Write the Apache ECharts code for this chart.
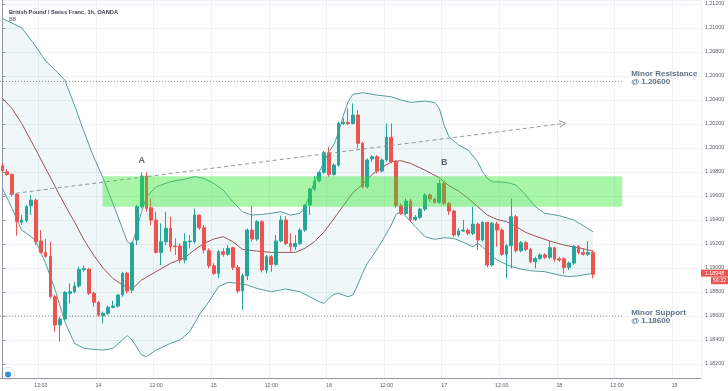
<!DOCTYPE html>
<html><head><meta charset="utf-8">
<script src="https://cdn.jsdelivr.net/npm/echarts@6/dist/echarts.min.js"></script>
<style>html,body{margin:0;padding:0;background:#fff}#c{width:728px;height:391px}</style>
</head><body><div id="c"></div>
<script>
// ---- time slots (1h candles) ----
const startDay = 13, startHour = 4, slotCount = 146;

// ---- candles (GBP/CHF 1h) ----
const opens = [1.19852,1.19802,1.19780,1.19614,1.19380,1.19394,1.19519,1.19566,1.19225,1.19130,
1.19097,1.18761,1.18525,1.18575,1.18789,1.18802,1.18850,1.18986,1.18991,1.18789,
1.18714,1.18600,1.18622,1.18672,1.18683,1.18775,1.18955,1.18816,1.19233,1.19511,
1.19766,1.19502,1.19400,1.19130,1.19219,1.19330,1.19183,1.19183,1.19066,1.19219,
1.19219,1.19441,1.19336,1.19144,1.19019,1.18955,1.19136,1.19114,1.19169,1.19005,
1.18808,1.18936,1.19316,1.19241,1.19386,1.18983,1.19094,1.19030,1.19225,1.19400,
1.19205,1.19177,1.19205,1.19316,1.19525,1.19658,1.19725,1.19797,1.19961,1.19780,
1.19858,1.20205,1.20214,1.20205,1.20275,1.20039,1.19677,1.19908,1.19927,1.19808,
1.19900,1.20089,1.19886,1.19519,1.19455,1.19558,1.19405,1.19422,1.19491,1.19608,
1.19575,1.19547,1.19705,1.19539,1.19475,1.19275,1.19308,1.19316,1.19289,1.19366,
1.19233,1.19380,1.19025,1.19366,1.19316,1.19114,1.19186,1.19427,1.19144,1.19211,
1.19155,1.19052,1.19080,1.19108,1.19089,1.19169,1.19077,1.19077,1.19005,1.19041,
1.19180,1.19130,1.19114,1.19130];
const highs = [1.19872,1.19825,1.19789,1.19622,1.19441,1.19525,1.19608,1.19580,1.19316,1.19241,
1.19219,1.18775,1.18594,1.18808,1.18872,1.18886,1.19011,1.19019,1.19002,1.18802,
1.18725,1.18636,1.18686,1.18727,1.18780,1.18969,1.18969,1.19219,1.19525,1.19797,
1.19797,1.19580,1.19469,1.19372,1.19469,1.19427,1.19247,1.19205,1.19289,1.19275,
1.19497,1.19447,1.19358,1.19164,1.19039,1.19150,1.19164,1.19191,1.19177,1.19025,
1.18955,1.19330,1.19519,1.19400,1.19400,1.19108,1.19108,1.19275,1.19436,1.19433,
1.19289,1.19275,1.19330,1.19530,1.19669,1.19766,1.19808,1.19975,1.20011,1.19872,
1.20219,1.20247,1.20330,1.20372,1.20316,1.20052,1.19914,1.19941,1.19941,1.19914,
1.20205,1.20205,1.19900,1.19539,1.19580,1.19575,1.19441,1.19502,1.19622,1.19622,
1.19586,1.19739,1.19719,1.19552,1.19486,1.19330,1.19400,1.19330,1.19511,1.19380,
1.19391,1.19386,1.19386,1.19386,1.19330,1.19197,1.19580,1.19441,1.19225,1.19225,
1.19169,1.19094,1.19122,1.19122,1.19225,1.19177,1.19094,1.19089,1.19052,1.19191,
1.19191,1.19164,1.19225,1.19150];
const lows = [1.19797,1.19769,1.19594,1.19269,1.19358,1.19380,1.19441,1.19191,1.19122,1.19086,
1.18747,1.18469,1.18386,1.18558,1.18705,1.18789,1.18836,1.18969,1.18775,1.18677,
1.18594,1.18539,1.18608,1.18664,1.18669,1.18761,1.18789,1.18789,1.19191,1.19497,
1.19469,1.19358,1.19122,1.19025,1.19191,1.19136,1.19108,1.19039,1.19039,1.19164,
1.19205,1.19316,1.19122,1.18997,1.18941,1.18914,1.19094,1.19102,1.18983,1.18789,
1.18650,1.18900,1.19219,1.19225,1.18964,1.18955,1.18969,1.19019,1.19214,1.19191,
1.19136,1.19150,1.19191,1.19302,1.19441,1.19641,1.19714,1.19786,1.19761,1.19769,
1.19844,1.20191,1.20191,1.20197,1.19997,1.19664,1.19664,1.19886,1.19789,1.19797,
1.19886,1.19872,1.19502,1.19441,1.19441,1.19386,1.19391,1.19408,1.19475,1.19552,
1.19536,1.19536,1.19525,1.19441,1.19261,1.19261,1.19302,1.19275,1.19275,1.19150,
1.19219,1.19005,1.19011,1.19177,1.19102,1.18914,1.18997,1.19130,1.19130,1.19141,
1.19039,1.18997,1.19066,1.19075,1.19075,1.19052,1.19052,1.18955,1.18983,1.19025,
1.19114,1.19102,1.19102,1.18914];
const closes = [1.19808,1.19780,1.19614,1.19386,1.19400,1.19511,1.19566,1.19219,1.19130,1.19097,
1.18761,1.18525,1.18575,1.18797,1.18802,1.18850,1.18989,1.18997,1.18789,1.18714,
1.18608,1.18622,1.18672,1.18683,1.18775,1.18955,1.18808,1.19205,1.19511,1.19766,
1.19497,1.19400,1.19130,1.19219,1.19330,1.19177,1.19177,1.19066,1.19219,1.19225,
1.19441,1.19336,1.19150,1.19019,1.18955,1.19136,1.19114,1.19164,1.19005,1.18808,
1.18936,1.19316,1.19241,1.19386,1.18983,1.19094,1.19030,1.19225,1.19400,1.19205,
1.19177,1.19205,1.19316,1.19525,1.19658,1.19725,1.19797,1.19961,1.19780,1.19858,
1.20205,1.20214,1.20205,1.20275,1.20039,1.19677,1.19900,1.19927,1.19808,1.19900,
1.20089,1.19886,1.19519,1.19455,1.19558,1.19405,1.19422,1.19491,1.19608,1.19575,
1.19547,1.19705,1.19539,1.19475,1.19275,1.19308,1.19316,1.19289,1.19366,1.19233,
1.19380,1.19025,1.19372,1.19316,1.19114,1.19186,1.19427,1.19144,1.19211,1.19155,
1.19052,1.19080,1.19108,1.19089,1.19169,1.19072,1.19066,1.19005,1.19041,1.19180,
1.19130,1.19114,1.19130,1.18948];

// ---- Bollinger bands (read at candle indices) ----
const upperIdx = [0,4,7,9,11,13,15,17,19,21,23,25,26,27,28,29,30,32,35,38,40,42,44,46,48,50,52,55,58,60,62,63,64,65,66,67,68,69,70,71,72,73,75,78,81,83,85,88,90,91,92,93,95,97,99,100,101,102,105,107,109,111,113,116,119,121,123];
const upperVal = [1.21080,1.21002,1.20844,1.20725,1.20650,1.20566,1.20358,1.20136,1.19927,1.19747,1.19539,1.19330,1.19219,1.19197,1.19330,1.19469,1.19594,1.19677,1.19719,1.19741,1.19761,1.19747,1.19705,1.19650,1.19552,1.19469,1.19441,1.19450,1.19469,1.19441,1.19455,1.19511,1.19608,1.19719,1.19802,1.19886,1.19969,1.20025,1.20130,1.20270,1.20386,1.20447,1.20461,1.20441,1.20427,1.20400,1.20380,1.20391,1.20380,1.20330,1.20191,1.20094,1.20025,1.19983,1.19886,1.19802,1.19747,1.19719,1.19714,1.19691,1.19608,1.19511,1.19455,1.19436,1.19400,1.19352,1.19302];
const midIdx = [0,2,4,7,9,11,13,15,17,19,21,23,25,27,29,32,35,38,40,42,44,46,48,50,53,56,59,61,63,65,67,69,71,73,75,77,79,81,83,85,88,91,93,95,97,99,101,103,105,107,109,111,114,117,120,123];
const midVal = [1.20414,1.20330,1.20205,1.19983,1.19830,1.19677,1.19525,1.19386,1.19233,1.19108,1.18997,1.18914,1.18858,1.18825,1.18900,1.18969,1.19039,1.19086,1.19150,1.19205,1.19241,1.19261,1.19219,1.19155,1.19141,1.19130,1.19130,1.19130,1.19164,1.19219,1.19302,1.19408,1.19519,1.19627,1.19697,1.19780,1.19836,1.19886,1.19894,1.19872,1.19816,1.19752,1.19686,1.19641,1.19580,1.19511,1.19441,1.19405,1.19386,1.19344,1.19297,1.19266,1.19225,1.19191,1.19169,1.19141];
const lowerIdx = [0,2,4,6,7,9,11,13,15,17,19,21,23,25,26,27,29,30,32,35,37,39,41,43,45,47,49,51,53,56,59,62,64,66,67,68,69,70,72,73,74,75,76,77,79,81,82,83,84,86,88,90,92,94,96,98,99,100,102,104,106,108,110,113,116,118,120,123];
const lowerVal = [1.19664,1.19497,1.19316,1.19261,1.19219,1.19039,1.18816,1.18552,1.18372,1.18330,1.18322,1.18316,1.18330,1.18400,1.18436,1.18400,1.18275,1.18261,1.18316,1.18372,1.18400,1.18469,1.18608,1.18719,1.18844,1.18880,1.18872,1.18858,1.18830,1.18802,1.18825,1.18802,1.18761,1.18719,1.18705,1.18747,1.18780,1.18789,1.18761,1.18775,1.18858,1.18955,1.19039,1.19094,1.19219,1.19358,1.19447,1.19469,1.19433,1.19344,1.19261,1.19239,1.19252,1.19247,1.19214,1.19177,1.19205,1.19177,1.19094,1.19047,1.19011,1.18991,1.18977,1.18969,1.18941,1.18927,1.18936,1.18955];

// ---- drawings ----
const zoneIdx = [20.87, 129.1], zonePrice = [1.19764, 1.19511];
const trendIdx = [-0.1, 117.25], trendPrice = [1.19608, 1.20206];
const levelIdx = [-0.5, 129.1], levelPrice = [1.20555, 1.18600];
const levelText = ['Minor Resistance\n@ 1.20600', 'Minor Support\n@ 1.18600'];
const levelTextIdx = 130.96, levelTextPrice = [1.20583, 1.18592];
const markText = ['A', 'B'], markIdx = [29, 92], markPrice = [1.19892, 1.19875];
const lastPrice = 1.18948, countdown = '56:32';
const yTicks = {min: 1.1808333, max: 1.2123333, step: 0.002};

const categories = [];
for (let i = 0; i < slotCount; i++) {
  const t = startHour + i, d = startDay + Math.floor(t / 24), h = t % 24;
  categories.push(d + ' ' + String(h).padStart(2, '0') + ':00');
}
const isTick = (idx, v) => /(00|12):00$/.test(v);
const FONT = '"Liberation Sans", Arial, sans-serif';
const chart = echarts.init(document.getElementById('c'), null, {renderer: 'canvas'});

chart.setOption({
  animation: false,
  backgroundColor: '#ffffff',
  title: {text: 'British Pound / Swiss Franc, 1h, OANDA', subtext: 'BB', left: 4, top: 4, itemGap: 2,
    textStyle: {fontSize: 5.7, fontWeight: 'bold', color: '#3b3f4a', fontFamily: FONT},
    subtextStyle: {fontSize: 5.4, color: '#6a6d78', fontFamily: FONT}},
  grid: {left: -1.9, right: 27, top: 0, bottom: 13},
  xAxis: [{
    type: 'category', data: categories, boundaryGap: true,
    axisLine: {lineStyle: {color: '#9598a1'}}, axisTick: {show: false},
    axisLabel: {interval: isTick, formatter: v => v.endsWith(' 00:00') ? v.split(' ')[0] : '12:00',
      fontSize: 5.3, color: '#5d606b', margin: 5, fontFamily: FONT},
    splitLine: {show: true, interval: isTick, lineStyle: {color: '#eef1f6', width: 1}}
  }, {
    type: 'value', min: -0.5, max: slotCount - 0.5, show: false
  }],
  yAxis: {
    type: 'value', position: 'right', min: yTicks.min, max: yTicks.max,
    minInterval: yTicks.step, maxInterval: yTicks.step, splitNumber: 15,
    axisLine: {show: true, lineStyle: {color: '#9598a1'}},
    axisTick: {show: true, length: 3, lineStyle: {color: '#9598a1'}},
    axisLabel: {showMinLabel: false, showMaxLabel: false, formatter: v => v.toFixed(5),
      fontSize: 5.3, color: '#5d606b', margin: 4, fontFamily: FONT},
    splitLine: {lineStyle: {color: '#eef1f6'}}
  },
  series: [
    { type: 'custom', xAxisIndex: 1, yAxisIndex: 0, z: 1, silent: true, data: [[upperIdx[0], upperVal[0]]],
      renderItem: (p, api) => {
        const pts = [];
        for (let i = 0; i < upperIdx.length; i++) pts.push(api.coord([upperIdx[i], upperVal[i]]));
        for (let i = lowerIdx.length - 1; i >= 0; i--) pts.push(api.coord([lowerIdx[i], lowerVal[i]]));
        return {type: 'polygon', shape: {points: pts}, style: {fill: 'rgba(40,150,160,0.075)'}};
      }},
    { type: 'line', xAxisIndex: 1, z: 2, silent: true, symbol: 'none',
      data: upperIdx.map((k, i) => [k, upperVal[i]]), lineStyle: {color: '#5a9c9e', width: 1}},
    { type: 'line', xAxisIndex: 1, z: 2, silent: true, symbol: 'none',
      data: lowerIdx.map((k, i) => [k, lowerVal[i]]), lineStyle: {color: '#5a9c9e', width: 1}},
    { type: 'line', xAxisIndex: 1, z: 2, silent: true, symbol: 'none',
      data: midIdx.map((k, i) => [k, midVal[i]]), lineStyle: {color: '#9c5456', width: 1}},
    { type: 'candlestick', xAxisIndex: 0, z: 3, barWidth: '68%',
      data: opens.map((o, i) => [o, closes[i], lows[i], highs[i]]),
      itemStyle: {color: '#26a69a', color0: '#ef5350', borderColor: '#26a69a', borderColor0: '#ef5350', borderWidth: 1}},
    { type: 'custom', xAxisIndex: 1, z: 6, silent: true,
      data: [[zoneIdx[0], zonePrice[0], zoneIdx[1], zonePrice[1]]],
      renderItem: (p, api) => {
        const a = api.coord([api.value(0), api.value(1)]), b = api.coord([api.value(2), api.value(3)]);
        return {type: 'rect', shape: {x: a[0], y: a[1], width: b[0] - a[0], height: b[1] - a[1]},
          style: {fill: 'rgba(40,232,40,0.40)'}};
      }},
    { type: 'custom', xAxisIndex: 1, z: 7, silent: true,
      data: levelPrice.map(p => [levelIdx[0], p, levelIdx[1]]),
      renderItem: (p, api) => {
        const a = api.coord([api.value(0), api.value(1)]), b = api.coord([api.value(2), api.value(1)]);
        return {type: 'line', shape: {x1: a[0], y1: a[1], x2: b[0], y2: b[1]},
          style: {stroke: '#8f8f7a', lineWidth: 1, lineDash: [1, 2]}};
      }},
    { type: 'custom', xAxisIndex: 1, z: 8, silent: true,
      data: [[trendIdx[0], trendPrice[0], trendIdx[1], trendPrice[1]]],
      renderItem: (p, api) => {
        const a = api.coord([api.value(0), api.value(1)]), b = api.coord([api.value(2), api.value(3)]);
        const dx = b[0] - a[0], dy = b[1] - a[1], L = Math.hypot(dx, dy), ux = dx / L, uy = dy / L;
        const nx = -uy, ny = ux, s = 6, w = 3.5;
        return {type: 'group', children: [
          {type: 'line', shape: {x1: a[0], y1: a[1], x2: b[0], y2: b[1]}, style: {stroke: '#8e9b98', lineWidth: 1, lineDash: [4, 3]}},
          {type: 'polyline', shape: {points: [[b[0] - s * ux + w * nx, b[1] - s * uy + w * ny], b, [b[0] - s * ux - w * nx, b[1] - s * uy - w * ny]]},
            style: {stroke: '#8e9b98', lineWidth: 1, fill: null}}
        ]};
      }},
    { type: 'custom', xAxisIndex: 1, z: 9, silent: true,
      data: levelTextPrice.map((p, i) => [levelTextIdx, p, i]),
      renderItem: (p, api) => {
        const a = api.coord([api.value(0), api.value(1)]);
        return {type: 'text', x: a[0], y: a[1], style: {text: levelText[api.value(2)], fill: '#5f7387',
          font: 'bold 8px ' + FONT, align: 'left', verticalAlign: 'middle', lineHeight: 8.5}};
      }},
    { type: 'custom', xAxisIndex: 1, z: 9, silent: true,
      data: markIdx.map((k, i) => [k, markPrice[i], i]),
      renderItem: (p, api) => {
        const a = api.coord([api.value(0), api.value(1)]);
        return {type: 'text', x: a[0], y: a[1], style: {text: markText[api.value(2)], fill: '#5f6b7a',
          font: 'bold 9px ' + FONT, align: 'center', verticalAlign: 'middle'}};
      }},
    { type: 'custom', xAxisIndex: 1, z: 20, silent: true, clip: false,
      data: [[opens.length - 1, lastPrice]],
      renderItem: (p, api) => {
        const cs = p.coordSys, x0 = cs.x + cs.width, y = api.coord([api.value(0), api.value(1)])[1];
        return {type: 'group', children: [
          {type: 'rect', shape: {x: x0, y: y - 4.6, width: 27, height: 7}, style: {fill: '#ef5350'}},
          {type: 'text', x: x0 + 13.5, y: y - 1.1, style: {text: lastPrice.toFixed(5), fill: '#fff',
            font: '5.3px ' + FONT, align: 'center', verticalAlign: 'middle'}},
          {type: 'rect', shape: {x: x0 + 10, y: y + 3, width: 17, height: 7}, style: {fill: '#ef5350'}},
          {type: 'text', x: x0 + 18.5, y: y + 6.5, style: {text: countdown, fill: '#fff',
            font: '5.3px ' + FONT, align: 'center', verticalAlign: 'middle'}}
        ]};
      }}
  ],
  graphic: [
    {type: 'circle', shape: {cx: 8, cy: 374, r: 6.5}, style: {fill: '#fff', stroke: '#dbe6f1', lineWidth: 1}},
    {type: 'circle', shape: {cx: 8, cy: 374.5, r: 3}, style: {fill: '#2f8fdc'}}
  ]
});
</script></body></html>
